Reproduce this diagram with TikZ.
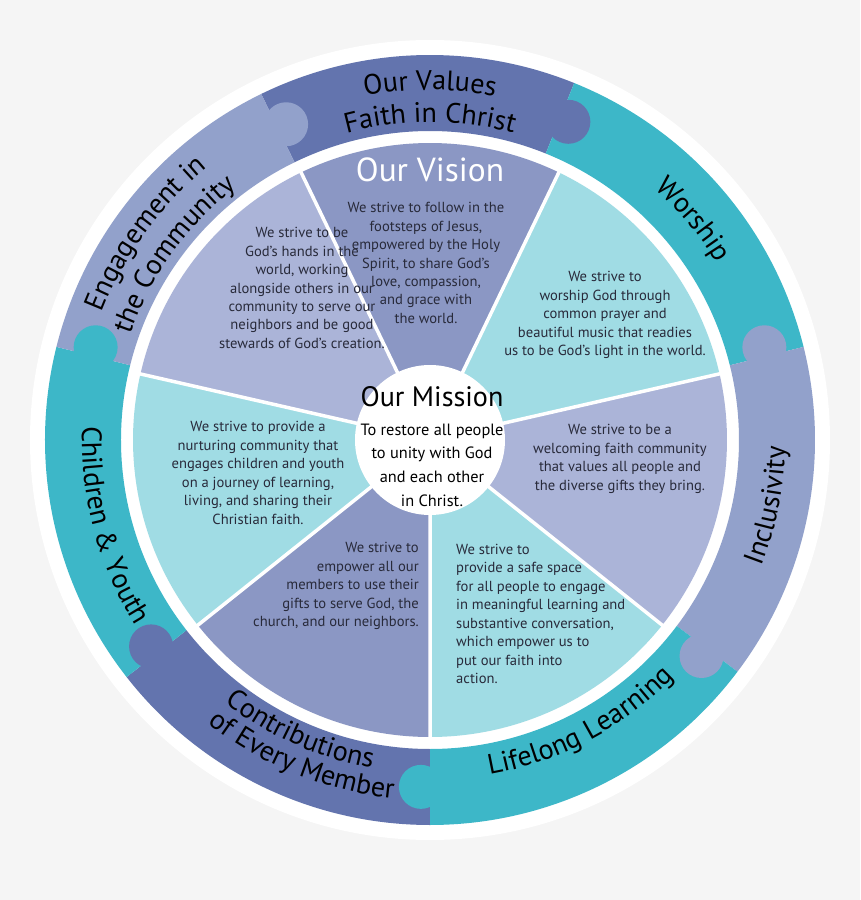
\documentclass[tikz,border=0pt]{standalone}
\usepackage{fontspec}
\setmainfont{PT Sans}
\usetikzlibrary{decorations.text}
\definecolor{bgcolor}{RGB}{245,245,245}
\definecolor{darkband}{RGB}{99,116,174}
\definecolor{tealband}{RGB}{61,183,200}
\definecolor{lavband}{RGB}{146,161,203}
\definecolor{midsector}{RGB}{139,151,196}
\definecolor{palesector}{RGB}{171,180,216}
\definecolor{aquasector}{RGB}{160,220,228}
\definecolor{textcolor}{RGB}{40,42,58}
\newcommand\ringfont{\fontsize{16}{18}\selectfont}
\newcommand\ringlabel[4]{\path[decorate,decoration={text along path,text align=center,text={|\ringfont|#4}}] (#2:#1) arc[start angle=#2,end angle=#3,radius=#1];}

\begin{document}
\begin{tikzpicture}[
    x=0.02cm, y=0.02cm,
    sectortext/.style={text=textcolor, font=\fontsize{8.3}{10.5}\selectfont, align=center},
    title/.style={text=white, font=\fontsize{19}{22}\selectfont}
]

% Background and outer disc
\fill[bgcolor] (-430,-460) rectangle (430,440);
\fill[white] (0,0) circle[radius=400];

% Values ring
\foreach \a/\b/\c in {116/68/darkband, 68/14/tealband, 14/-37/lavband, -37/-90/tealband,
    -90/-142/darkband, 218/166/tealband, 166/116/lavband}
  \fill[\c] (\a:385) arc[start angle=\a, end angle=\b, radius=385] -- (\b:309)
    arc[start angle=\b, end angle=\a, radius=309] -- cycle;
% Puzzle tabs
\foreach \ang/\c in {66.5/darkband, 15.5/lavband, -38.5/lavband, -91.5/tealband,
    -143.5/darkband, 164.5/tealband, 114.5/lavband}
  \fill[\c] (\ang:347) circle[radius=22];

% Vision sectors
\foreach \i/\c in {0/midsector, 1/palesector, 2/aquasector, 3/midsector, 4/aquasector,
    5/palesector, 6/aquasector} {
  \pgfmathsetmacro\s{64.29+51.43*\i}
  \fill[\c] (0,0) -- (\s:297) arc[start angle=\s, delta angle=51.43, radius=297] -- cycle;
}
\foreach \i in {0,...,6}
  \draw[white, line width=0.7mm] (0,0) -- (64.29+51.43*\i:300);
\fill[white] (0,0) circle[radius=75];

% Ring labels
\ringlabel{350}{130}{50}{Our Values}
\ringlabel{318}{130}{50}{Faith in Christ}
\ringlabel{337}{80}{0}{Worship}
\ringlabel{355}{-51}{29}{Inclusivity}
\ringlabel{340}{-102}{-22}{Lifelong Learning}
\ringlabel{333}{-154}{-74}{Contributions}
\ringlabel{360}{-152}{-72}{of Every Member}
\ringlabel{348}{155}{235}{Children {\&} Youth}
\ringlabel{352}{184}{104}{Engagement in}
\ringlabel{318}{184}{104}{the Community}

% Vision texts
\node[title] (vision) at (0,270) {Our Vision};
\node[sectortext] (follow) at (-4,177) {We strive to follow in the\\footsteps of Jesus,\\empowered by the Holy\\Spirit, to share God's\\love, compassion,\\and grace with\\the world.};
\node[sectortext] (worship) at (175,125) {We strive to\\worship God through\\common prayer and\\beautiful music that readies\\us to be God's light in the world.};
\node[sectortext] (welcome) at (190,-19) {We strive to be a\\welcoming faith community\\that values all people and\\the diverse gifts they bring.};
\node[sectortext, align=left, anchor=west] (learn) at (20,-174) {We strive to\\provide a safe space\\for all people to engage\\in meaningful learning and\\substantive conversation,\\which empower us to\\put our faith into\\action.};
\node[sectortext, align=right, anchor=east] (gifts) at (-5,-146) {We strive to\\empower all our\\members to use their\\gifts to serve God, the\\church, and our neighbors.};
\node[sectortext] (nurture) at (-172,-33) {We strive to provide a\\nurturing community that\\engages children and youth\\on a journey of learning,\\living, and sharing their\\Christian faith.};
\node[sectortext] (hands) at (-128,152) {We strive to be\\God's hands in the\\world, working\\alongside others in our\\community to serve our\\neighbors and be good\\stewards of God's creation.};

% Mission
\node[font=\fontsize{16}{18}\selectfont] (mission) at (2,43) {Our Mission};
\node[font=\fontsize{9.3}{13.5}\selectfont, align=center] (restore) at (2,-25) {To restore all people\\to unity with God\\and each other\\in Christ.};

\end{tikzpicture}
\end{document}
